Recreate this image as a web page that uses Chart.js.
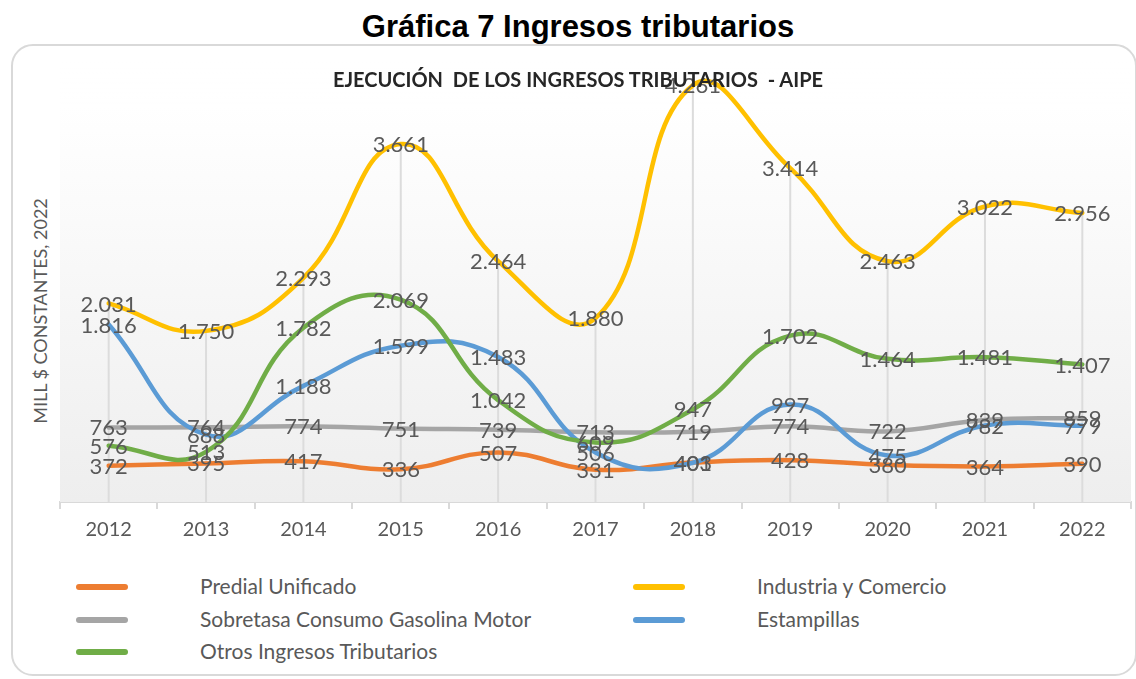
<!DOCTYPE html>
<html>
  <head>
    <meta charset="utf-8">
    <title>Gráfica 7 Ingresos tributarios</title>
    <script src="https://cdn.jsdelivr.net/npm/chart.js"></script>
    <style>
      body { margin: 0; background: white; font-family: Lato, sans-serif; }
      #page { position: relative; width: 1136px; height: 679px; overflow: hidden; }
      #mainTitle { position: absolute; left: 0; width: 1156px; top: 9px; text-align: center; font-family: "Liberation Sans", Arial, sans-serif; font-weight: bold; font-size: 31px; color: #000; }
      #box { position: absolute; left: 11px; top: 44px; width: 1122px; height: 628px; border: 2px solid #d9d9d9; border-radius: 22px; }
      #chartTitle { position: absolute; z-index: 2; left: 0; width: 1156px; top: 67px; text-align: center; font-weight: bold; font-size: 20px; color: #262626; }
      #yTitle { position: absolute; left: 40px; top: 311px; transform: translate(-50%, -50%) rotate(-90deg); white-space: nowrap; font-size: 18px; color: #595959; }
      #chartWrap { position: absolute; z-index: 1; left: 0; top: 0; width: 1136px; height: 560px; }
      .leg { position: absolute; font-size: 21px; color: #595959; }
      .leg i { position: absolute; width: 52px; height: 6px; border-radius: 3px; }
    </style>
  </head>
  <body>
    <div id="page">
      <div id="box"></div>
      <div id="mainTitle">Gráfica 7 Ingresos tributarios</div>
      <div id="chartTitle">EJECUCIÓN&nbsp; DE LOS INGRESOS TRIBUTARIOS&nbsp; - AIPE</div>
      <div id="yTitle">MILL $ CONSTANTES, 2022</div>
      <div id="chartWrap"><canvas id="chart" width="1136" height="560"></canvas></div>
      <div id="legend"></div>
    </div>

    <script>
      const years = ['2012', '2013', '2014', '2015', '2016', '2017', '2018', '2019', '2020', '2021', '2022'];
      const predial = [372, 395, 417, 336, 507, 331, 403, 428, 380, 364, 390];
      const industria = [2031, 1750, 2293, 3661, 2464, 1880, 4261, 3414, 2463, 3022, 2956];
      const sobretasa = [763, 764, 774, 751, 739, 713, 719, 774, 722, 839, 859];
      const estampillas = [1816, 688, 1188, 1599, 1483, 506, 401, 997, 475, 782, 779];
      const otros = [576, 513, 1782, 2069, 1042, 609, 947, 1702, 1464, 1481, 1407];

      const seriesNames = ['Predial Unificado', 'Industria y Comercio', 'Sobretasa Consumo Gasolina Motor', 'Estampillas', 'Otros Ingresos Tributarios'];
      const seriesData = [predial, industria, sobretasa, estampillas, otros];
      const seriesColors = ['#ED7D31', '#FFC000', '#A5A5A5', '#5B9BD5', '#70AD47'];

      // 2.031 style thousands separator
      function fmt(v) {
        return String(v).replace(/\B(?=(\d{3})+(?!\d))/g, '.');
      }

      // gradient plot background + drop lines from the highest point
      const plotBg = {
        id: 'plotBg',
        beforeDatasetsDraw(chart) {
          const { ctx, chartArea: a, scales } = chart;
          ctx.save();
          const g = ctx.createLinearGradient(0, a.top, 0, a.bottom);
          g.addColorStop(0, 'rgba(255,255,255,0)');
          g.addColorStop(0.1, '#ffffff');
          g.addColorStop(1, '#eeeeee');
          ctx.fillStyle = g;
          ctx.fillRect(a.left, a.top, a.right - a.left, a.bottom - a.top);
          ctx.strokeStyle = '#dcdcdc';
          ctx.lineWidth = 2;
          years.forEach((y, i) => {
            const top = Math.max(...seriesData.map(s => s[i]));
            const x = scales.x.getPixelForValue(i);
            ctx.beginPath();
            ctx.moveTo(x, scales.y.getPixelForValue(top));
            ctx.lineTo(x, a.bottom);
            ctx.stroke();
          });
          ctx.restore();
        }
      };

      const valueLabels = {
        id: 'valueLabels',
        afterDatasetsDraw(chart) {
          const { ctx } = chart;
          ctx.save();
          ctx.font = '22px Lato, sans-serif';
          ctx.fillStyle = '#595959';
          ctx.textAlign = 'center';
          ctx.textBaseline = 'middle';
          chart.data.datasets.forEach((ds, di) => {
            chart.getDatasetMeta(di).data.forEach((pt, i) => {
              ctx.fillText(fmt(ds.data[i]), pt.x, pt.y + 1);
            });
          });
          ctx.restore();
        }
      };

      const ctx = document.getElementById('chart').getContext('2d');
      new Chart(ctx, {
        type: 'line',
        data: {
          labels: years,
          datasets: seriesNames.map((name, i) => ({
            label: name,
            data: seriesData[i],
            borderColor: seriesColors[i],
            backgroundColor: seriesColors[i],
            borderWidth: 4.5,
            borderCapStyle: 'round',
            pointRadius: 0,
            tension: 0.45,
            clip: false,
            order: seriesNames.length - i
          }))
        },
        plugins: [plotBg, valueLabels],
        options: {
          responsive: false,
          animation: false,
          layout: { padding: { left: 60, right: 5, top: 62, bottom: 0 } },
          plugins: { legend: { display: false }, title: { display: false }, tooltip: { enabled: false } },
          scales: {
            x: {
              offset: true,
              grid: { offset: true, drawOnChartArea: false, tickLength: 7, color: '#d9d9d9', lineWidth: 2 },
              border: { color: '#d9d9d9', width: 2 },
              ticks: { color: '#595959', font: { family: 'Lato', size: 20 }, padding: 9 },
              afterFit(scale) { scale.height = 58; }
            },
            y: {
              display: false,
              min: 0,
              max: 4500
            }
          }
        }
      });

      // legend, two columns like the original
      const legendPos = [[76, 587], [633, 587], [76, 620], [633, 620], [76, 652]];
      const legend = document.getElementById('legend');
      seriesNames.forEach((name, i) => {
        const [x, y] = legendPos[i];
        const el = document.createElement('div');
        el.className = 'leg';
        el.style.left = x + 'px';
        el.style.top = (y - 14) + 'px';
        el.innerHTML = '<i style="left:0;top:11px;background:' + seriesColors[i] + '"></i><span style="position:absolute;left:124px;white-space:nowrap">' + name + '</span>';
        legend.appendChild(el);
      });
    </script>
  </body>
</html>
